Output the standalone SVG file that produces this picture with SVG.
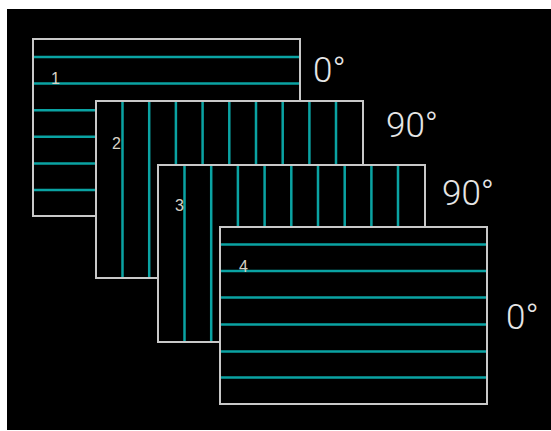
<svg xmlns="http://www.w3.org/2000/svg" width="551" height="431" viewBox="0 0 551 431">
<style>
.sheet{fill:#000;stroke:#c8c8c8;stroke-width:2}
.fib{stroke:#0aa3a3;stroke-width:2.5;fill:none}
.num{font-family:"Liberation Sans",Arial,sans-serif;font-size:16px;fill:#d8d2c6}
.ang{font-family:Roboto,"Liberation Sans",sans-serif;font-weight:300;font-size:35px;fill:#e6e6e6}
</style>
<rect x="0" y="0" width="551" height="431" fill="#fff"/>
<rect x="7" y="9" width="544" height="421" fill="#000"/>
<g id="ply1">
<rect class="sheet" x="33" y="39" width="267" height="177"/>
<path class="fib" d="M34 57H299M34 83.6H299M34 110.2H299M34 136.8H299M34 163.4H299M34 190H299"/>
<text class="num" x="51" y="84">1</text>
</g>
<g id="ply2">
<rect class="sheet" x="96" y="101" width="267" height="177"/>
<path class="fib" d="M122.5 102V277M149.2 102V277M175.9 102V277M202.6 102V277M229.3 102V277M256 102V277M282.7 102V277M309.4 102V277M336 102V277"/>
<text class="num" x="112" y="149">2</text>
</g>
<g id="ply3">
<rect class="sheet" x="158" y="165" width="267" height="177"/>
<path class="fib" d="M184.5 166V341M211.2 166V341M237.9 166V341M264.6 166V341M291.3 166V341M318 166V341M344.7 166V341M371.4 166V341M398 166V341"/>
<text class="num" x="175" y="211">3</text>
</g>
<g id="ply4">
<rect class="sheet" x="220" y="227" width="267" height="177"/>
<path class="fib" d="M221 244.5H486M221 271H486M221 297.5H486M221 324.5H486M221 351.5H486M221 377.5H486"/>
<text class="num" x="239" y="272">4</text>
</g>
<g id="labels">
<text class="ang" x="313" y="82">0°</text>
<text class="ang" x="386" y="137">90°</text>
<text class="ang" x="442" y="205">90°</text>
<text class="ang" x="506" y="329">0°</text>
</g>
<g id="connectors"/>
</svg>
